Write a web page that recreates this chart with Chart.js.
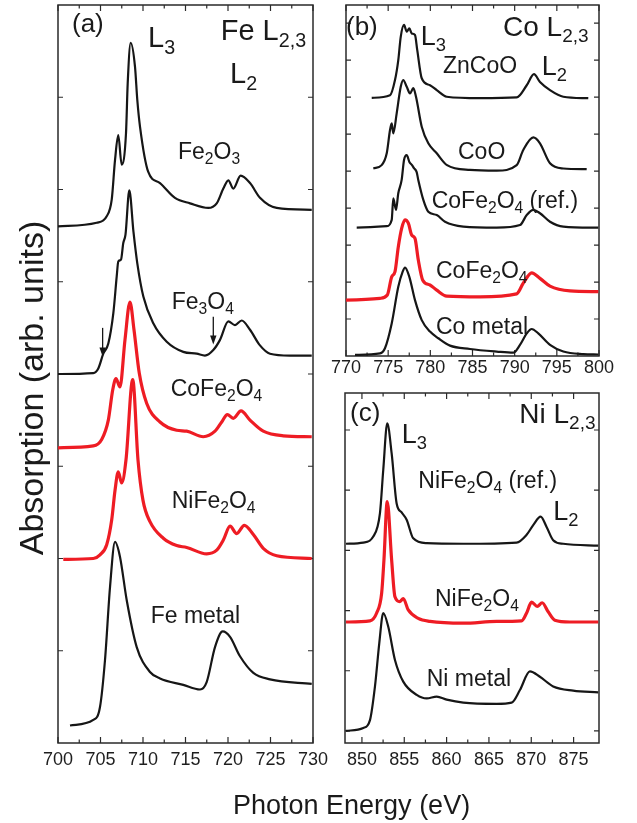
<!DOCTYPE html>
<html>
<head>
<meta charset="utf-8">
<script src="https://cdn.jsdelivr.net/npm/chart.js@4.4.0/dist/chart.umd.min.js"></script>
<style>
  html, body { margin: 0; padding: 0; background: #fff; }
  #wrap { position: relative; width: 637px; height: 823px; overflow: hidden; font-family: 'Liberation Sans', Arial, sans-serif; color: #1a1a1a; }
  canvas { position: absolute; left: 0; top: 0; }
  .lb { position: absolute; white-space: nowrap; line-height: 1; }
  .lb .s { font-size: 0.68em; position: relative; top: 0.32em; }
</style>
</head>
<body>
<div id="wrap"></div>
<script>
// ---- panel (a) Fe L2,3 ----
const feTicks = [700, 705, 710, 715, 720, 725, 730];
const feE_Fe2O3 = [699.9, 704.55, 705.73, 706.32, 706.71, 707.09, 707.49, 708.0, 708.2, 708.55, 709.06, 709.33, 709.65, 710.62, 712.0, 713.76, 715.53, 717.68, 718.67, 719.45, 720.04, 720.62, 721.49, 722.59, 723.76, 725.73, 729.85];
const feA_Fe2O3 = [5.60, 5.64, 5.71, 5.89, 6.32, 6.59, 6.27, 6.61, 7.15, 7.59, 7.33, 6.97, 6.68, 6.19, 6.07, 5.91, 5.85, 5.80, 5.85, 6.01, 6.10, 6.01, 6.15, 6.07, 5.91, 5.80, 5.78];
const feE_Fe3O4 = [699.92, 704.15, 704.74, 705.33, 705.92, 706.51, 706.91, 707.09, 707.41, 707.68, 707.94, 708.39, 708.88, 709.33, 710.04, 711.21, 712.79, 714.74, 716.32, 717.29, 718.27, 719.06, 720.04, 720.82, 721.61, 722.59, 723.76, 724.94, 727.29, 729.85];
const feA_Fe3O4 = [4.00, 4.01, 4.06, 4.22, 4.33, 4.66, 5.06, 5.22, 5.24, 5.42, 5.51, 5.99, 5.54, 5.20, 4.84, 4.55, 4.35, 4.24, 4.22, 4.20, 4.26, 4.37, 4.57, 4.53, 4.58, 4.48, 4.31, 4.22, 4.20, 4.20];
const feE_CoFe2O4 = [699.92, 704.15, 705.14, 705.92, 706.44, 706.82, 707.29, 707.88, 708.47, 708.94, 709.56, 710.44, 712.0, 713.96, 715.14, 717.09, 718.47, 719.26, 719.92, 720.62, 721.53, 722.59, 724.15, 726.51, 729.85];
const feA_CoFe2O4 = [3.20, 3.22, 3.29, 3.50, 3.83, 3.95, 3.86, 4.37, 4.78, 4.48, 4.01, 3.68, 3.48, 3.39, 3.38, 3.32, 3.38, 3.48, 3.56, 3.52, 3.60, 3.50, 3.38, 3.33, 3.32];
const feE_NiFe2O4 = [700.62, 704.15, 704.94, 705.73, 706.32, 706.71, 707.09, 707.49, 708.0, 708.79, 709.41, 710.0, 710.82, 712.39, 713.96, 715.14, 717.49, 718.67, 719.45, 720.24, 721.02, 721.92, 722.98, 724.15, 725.73, 729.85];
const feA_NiFe2O4 = [1.99, 2.00, 2.04, 2.15, 2.42, 2.74, 2.94, 2.82, 3.07, 3.94, 3.07, 2.63, 2.40, 2.22, 2.14, 2.12, 2.05, 2.09, 2.20, 2.35, 2.27, 2.36, 2.26, 2.11, 2.03, 2.00];
const feE_metal = [701.41, 704.15, 704.94, 705.53, 706.12, 706.71, 707.29, 708.08, 709.26, 710.82, 712.0, 714.74, 716.71, 717.49, 718.47, 719.38, 720.24, 721.41, 722.98, 724.94, 729.85];
const feA_metal = [0.19, 0.25, 0.39, 0.90, 1.69, 2.18, 2.02, 1.55, 1.04, 0.77, 0.70, 0.63, 0.58, 0.66, 1.04, 1.21, 1.15, 0.94, 0.76, 0.69, 0.64];
// arrows marking pre-edge features in Fe3O4
const arrowE = [705.25, 718.27];
const arrowFrom = [4.50, 4.62];
const arrowTo = [4.19, 4.32];

// ---- panel (b) Co L2,3 ----
const coTicks = [770, 775, 780, 785, 790, 795, 800];
const coE_ZnCoO = [773.05, 775.22, 775.81, 776.2, 776.49, 776.88, 777.2, 777.51, 777.79, 778.18, 778.45, 778.98, 779.96, 780.76, 781.94, 785.89, 790.24, 791.43, 792.29, 793.0, 794.19, 795.77, 798.73];
const coA_ZnCoO = [6.98, 7.05, 7.46, 8.00, 8.63, 8.95, 8.77, 8.86, 8.72, 8.68, 8.27, 7.51, 7.32, 7.19, 7.01, 6.97, 6.99, 7.32, 7.62, 7.41, 7.19, 7.01, 6.97];
const coE_CoO = [773.24, 774.23, 774.83, 775.22, 775.42, 775.61, 776.01, 776.49, 776.79, 777.2, 777.59, 777.98, 778.3, 778.98, 779.76, 780.76, 781.98, 784.7, 787.87, 790.24, 791.02, 792.21, 793.0, 794.19, 795.77, 798.54];
const coA_CoO = [5.07, 5.16, 5.48, 6.11, 6.29, 6.02, 6.56, 7.28, 7.46, 7.28, 7.10, 7.24, 7.01, 6.20, 5.75, 5.48, 5.16, 5.03, 5.01, 5.16, 5.57, 5.91, 5.75, 5.21, 5.07, 5.05];
const coE_ref = [771.27, 774.83, 775.42, 775.61, 775.93, 776.2, 776.6, 776.88, 777.2, 777.53, 777.83, 778.06, 778.38, 778.57, 779.17, 779.76, 780.76, 781.74, 783.91, 787.87, 790.63, 791.43, 792.21, 793.0, 794.19, 795.77, 799.92];
const coA_ref = [3.47, 3.51, 3.68, 4.26, 3.95, 4.40, 4.76, 5.30, 5.43, 5.24, 5.16, 5.08, 4.97, 4.76, 4.22, 3.90, 3.81, 3.63, 3.50, 3.47, 3.54, 3.81, 3.95, 3.86, 3.63, 3.50, 3.47];
const coE_CoFe2O4 = [770.0, 774.03, 774.9, 775.42, 775.81, 776.2, 776.6, 777.0, 777.39, 777.79, 778.18, 778.57, 779.1, 779.96, 780.76, 781.94, 785.89, 790.24, 791.02, 792.02, 793.0, 794.19, 796.56, 799.92];
const coA_CoFe2O4 = [1.51, 1.56, 1.65, 2.14, 2.28, 2.95, 3.45, 3.68, 3.59, 3.27, 3.18, 2.60, 2.05, 1.92, 1.78, 1.62, 1.60, 1.68, 1.97, 2.25, 2.10, 1.89, 1.76, 1.74];
const coE_metal = [771.07, 774.03, 774.62, 775.42, 776.2, 776.72, 777.0, 777.51, 778.18, 778.98, 779.96, 780.95, 782.33, 784.7, 787.87, 789.84, 790.63, 791.43, 792.02, 792.8, 794.19, 795.77, 798.14, 799.92];
const coA_metal = [0.03, 0.07, 0.21, 0.88, 1.87, 2.28, 2.39, 2.14, 1.51, 0.97, 0.66, 0.48, 0.28, 0.19, 0.12, 0.09, 0.30, 0.61, 0.73, 0.61, 0.30, 0.12, 0.05, 0.04];

// ---- panel (c) Ni L2,3 ----
const niTicks = [850, 855, 860, 865, 870, 875];
const niE_ref = [848.12, 850.16, 851.34, 852.13, 852.52, 852.99, 853.51, 854.1, 854.69, 855.28, 856.06, 857.65, 861.97, 868.27, 869.45, 870.23, 871.11, 871.81, 872.59, 873.77, 877.91];
const niA_ref = [3.11, 3.13, 3.23, 3.62, 4.34, 5.11, 4.61, 3.78, 3.63, 3.51, 3.20, 3.12, 3.11, 3.13, 3.26, 3.42, 3.56, 3.39, 3.17, 3.11, 3.08];
const niE_NiFe2O4 = [848.12, 850.95, 851.74, 852.33, 852.6, 852.99, 853.51, 853.9, 854.49, 854.88, 855.47, 856.65, 858.04, 861.97, 865.91, 868.86, 869.45, 870.04, 870.7, 871.29, 872.0, 872.79, 874.56, 877.91];
const niA_NiFe2O4 = [1.81, 1.83, 1.96, 2.29, 2.84, 3.81, 2.84, 2.23, 2.15, 2.20, 2.01, 1.87, 1.82, 1.79, 1.82, 1.83, 1.96, 2.14, 2.07, 2.13, 1.98, 1.84, 1.81, 1.81];
const niE_metal = [848.12, 850.16, 850.95, 851.54, 852.05, 852.52, 853.11, 853.9, 854.88, 856.47, 857.65, 858.83, 860.01, 861.97, 865.91, 867.68, 868.66, 869.84, 871.02, 872.59, 874.95, 877.91];
const niA_metal = [0.00, 0.05, 0.18, 0.74, 1.46, 1.96, 1.73, 1.18, 0.82, 0.60, 0.54, 0.57, 0.52, 0.47, 0.45, 0.47, 0.68, 0.99, 0.90, 0.74, 0.67, 0.64];

const BLACK = '#161616';
const RED = '#ee1c24';
const W = 637, H = 823;

function pts(xs, ys) {
  return xs.map((x, i) => ({ x: x, y: ys[i] }));
}

function line(xs, ys, red) {
  return {
    data: pts(xs, ys),
    borderColor: red ? RED : BLACK,
    borderWidth: red ? 3.2 : 2.2,
    pointRadius: 0,
    fill: false,
    cubicInterpolationMode: 'monotone'
  };
}

// box + inward ticks on all four sides
const framePlugin = {
  id: 'frame',
  beforeDatasetsDraw(chart, args, opts) {
    const ctx = chart.ctx, a = chart.chartArea;
    const x = chart.scales.x, y = chart.scales.y;
    ctx.save();
    ctx.strokeStyle = '#2a2a2a';
    ctx.lineWidth = 1.5;
    ctx.strokeRect(a.left, a.top, a.right - a.left, a.bottom - a.top);
    ctx.lineWidth = 1.2;
    ctx.beginPath();
    const xt = opts.xTicks;
    xt.forEach(function(v, i) {
      const p = x.getPixelForValue(v);
      ctx.moveTo(p, a.bottom); ctx.lineTo(p, a.bottom - 6);
      ctx.moveTo(p, a.top); ctx.lineTo(p, a.top + 6);
      if (i < xt.length - 1) {
        const m = x.getPixelForValue((v + xt[i + 1]) / 2);
        ctx.moveTo(m, a.bottom); ctx.lineTo(m, a.bottom - 3.5);
        ctx.moveTo(m, a.top); ctx.lineTo(m, a.top + 3.5);
      }
    });
    opts.yTicks.forEach(function(v) {
      const p = y.getPixelForValue(v);
      ctx.moveTo(a.left, p); ctx.lineTo(a.left + 5, p);
      ctx.moveTo(a.right, p); ctx.lineTo(a.right - 5, p);
    });
    ctx.stroke();
    ctx.restore();
  },
  afterDatasetsDraw(chart, args, opts) {
    if (!opts.arrows) return;
    const ctx = chart.ctx;
    const x = chart.scales.x, y = chart.scales.y;
    ctx.save();
    ctx.strokeStyle = BLACK;
    ctx.fillStyle = BLACK;
    ctx.lineWidth = 1.3;
    opts.arrows.e.forEach(function(e, i) {
      const px = x.getPixelForValue(e);
      const y0 = y.getPixelForValue(opts.arrows.from[i]);
      const y1 = y.getPixelForValue(opts.arrows.to[i]);
      ctx.beginPath();
      ctx.moveTo(px, y0); ctx.lineTo(px, y1 - 6);
      ctx.stroke();
      ctx.beginPath();
      ctx.moveTo(px, y1);
      ctx.lineTo(px - 3.2, y1 - 9);
      ctx.lineTo(px + 3.2, y1 - 9);
      ctx.closePath();
      ctx.fill();
    });
    ctx.restore();
  }
};

function panel(box, xr, yr, xTicks, yTicks, datasets, labPad, arrows) {
  const c = document.createElement('canvas');
  c.width = W; c.height = H;
  c.style.width = W + 'px'; c.style.height = H + 'px';
  document.getElementById('wrap').appendChild(c);
  const axisH = 30;
  return new Chart(c.getContext('2d'), {
    type: 'line',
    data: { datasets: datasets },
    options: {
      responsive: false,
      animation: false,
      devicePixelRatio: 1,
      layout: { padding: { left: box.l, right: W - box.r, top: box.t, bottom: H - box.b - axisH } },
      plugins: {
        legend: { display: false },
        tooltip: { enabled: false },
        frame: { xTicks: xTicks, yTicks: yTicks, arrows: arrows }
      },
      scales: {
        x: {
          type: 'linear', min: xr[0], max: xr[1],
          grid: { display: false, drawTicks: false },
          border: { display: false },
          ticks: { font: { size: 18, family: 'Liberation Sans' }, color: '#1e1e1e', padding: labPad, maxRotation: 0, autoSkip: false },
          afterBuildTicks: function(s) { s.ticks = xTicks.map(function(v) { return { value: v }; }); },
          afterFit: function(s) { s.height = axisH; }
        },
        y: { display: false, min: yr[0], max: yr[1] }
      }
    },
    plugins: [framePlugin]
  });
}

panel({ l: 58, r: 313, t: 5, b: 743 }, [700, 730], [0, 8], feTicks, [1, 2, 3, 4, 5, 6, 7], [
  line(feE_Fe2O3, feA_Fe2O3),
  line(feE_Fe3O4, feA_Fe3O4),
  line(feE_CoFe2O4, feA_CoFe2O4, true),
  line(feE_NiFe2O4, feA_NiFe2O4, true),
  line(feE_metal, feA_metal)
], 6, { e: arrowE, from: arrowFrom, to: arrowTo });

panel({ l: 346, r: 599, t: 5, b: 356 }, [770, 800], [0, 9.49], coTicks, [1, 2, 3, 4, 5, 6, 7, 8, 9], [
  line(coE_ZnCoO, coA_ZnCoO),
  line(coE_CoO, coA_CoO),
  line(coE_ref, coA_ref),
  line(coE_CoFe2O4, coA_CoFe2O4, true),
  line(coE_metal, coA_metal)
], 1, null);

panel({ l: 345, r: 599, t: 393, b: 743 }, [848, 878], [-0.2, 5.615], niTicks, [0, 1, 2, 3, 4, 5], [
  line(niE_ref, niA_ref),
  line(niE_NiFe2O4, niA_NiFe2O4, true),
  line(niE_metal, niA_metal)
], 6, null);

// text labels: [html, left, cap top, font size]
const s = function(t) { return '<span class="s">' + t + '</span>'; };
const labels = [
  ['(a)', 72, 13, 26],
  ['L' + s('3'), 148, 27, 29],
  ['Fe L' + s('2,3'), 220.7, 20, 29],
  ['L' + s('2'), 230, 63, 29],
  ['Fe' + s('2') + 'O' + s('3'), 178, 143, 23],
  ['Fe' + s('3') + 'O' + s('4'), 171.7, 292.7, 23],
  ['CoFe' + s('2') + 'O' + s('4'), 170.7, 380, 23],
  ['NiFe' + s('2') + 'O' + s('4'), 171.7, 491.7, 23],
  ['Fe metal', 150.7, 606.7, 23],
  ['(b)', 346, 16, 26],
  ['L' + s('3'), 420.7, 27, 27],
  ['Co L' + s('2,3'), 503, 17, 28],
  ['ZnCoO', 443, 57, 23],
  ['L' + s('2'), 541.7, 57, 27],
  ['CoO', 458, 143, 23],
  ['CoFe' + s('2') + 'O' + s('4') + ' (ref.)', 431.7, 191.7, 23],
  ['CoFe' + s('2') + 'O' + s('4'), 436, 261.7, 23],
  ['Co metal', 436, 318, 23],
  ['(c)', 350, 402, 26],
  ['L' + s('3'), 401.7, 425, 27],
  ['Ni L' + s('2,3'), 519.3, 403.3, 28],
  ['NiFe' + s('2') + 'O' + s('4') + ' (ref.)', 418.3, 471.7, 23],
  ['L' + s('2'), 553.3, 501.7, 27],
  ['NiFe' + s('2') + 'O' + s('4'), 435, 590, 23],
  ['Ni metal', 426.7, 670, 23],
  ['Photon Energy (eV)', 233, 796, 27]
];
const wrap = document.getElementById('wrap');
labels.forEach(function(l) {
  const d = document.createElement('div');
  d.className = 'lb';
  d.innerHTML = l[0];
  d.style.left = l[1] + 'px';
  d.style.top = (l[2] - 0.13 * l[3]) + 'px';
  d.style.fontSize = l[3] + 'px';
  wrap.appendChild(d);
});

// rotated y-axis title
const ytSize = 34;
const yt = document.createElement('div');
yt.className = 'lb';
yt.textContent = 'Absorption (arb. units)';
yt.style.fontSize = ytSize + 'px';
yt.style.width = '440px';
yt.style.height = ytSize + 'px';
yt.style.textAlign = 'center';
yt.style.left = (31 - 220) + 'px';
yt.style.top = (388 - ytSize / 2) + 'px';
yt.style.transform = 'rotate(-90deg)';
wrap.appendChild(yt);
</script>
</body>
</html>
